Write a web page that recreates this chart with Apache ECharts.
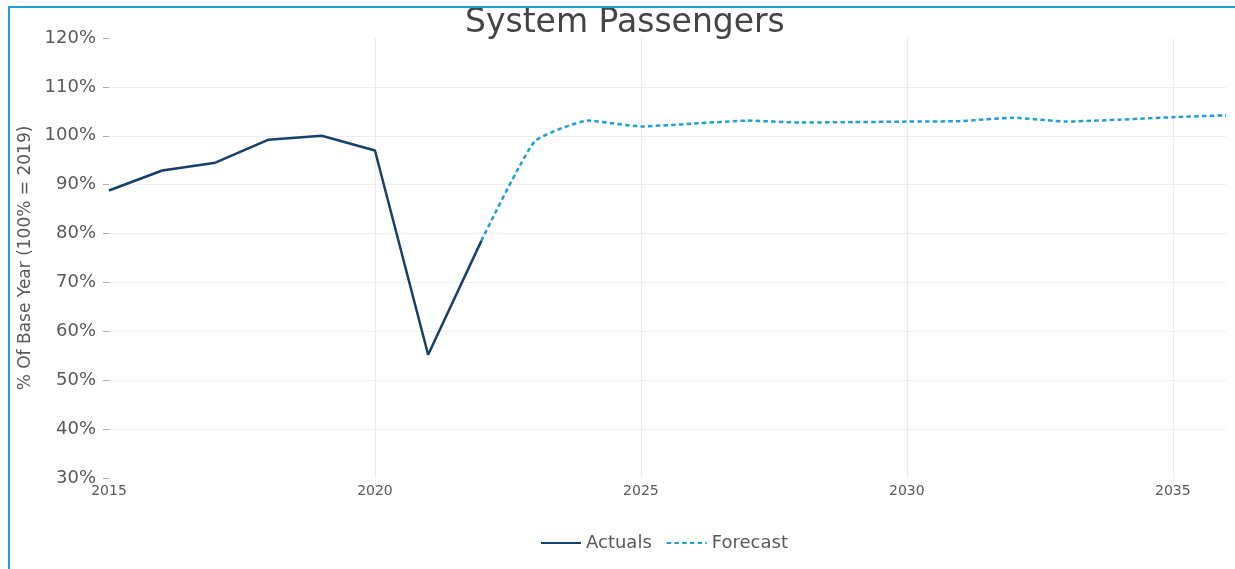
<!DOCTYPE html>
<html>
<head>
<meta charset="utf-8">
<style>
  html, body { margin: 0; padding: 0; background: #ffffff; }
  #wrap { position: relative; width: 1235px; height: 569px; overflow: hidden; }
  #chart { position: absolute; left: 0; top: 0; width: 1235px; height: 569px; }
  #frame {
    position: absolute; left: 8px; top: 6px; width: 1240px; height: 600px;
    border-left: 2px solid #1ba0d3; border-top: 2px solid #1ba0d3;
    pointer-events: none;
  }
</style>
<script src="https://cdn.jsdelivr.net/npm/echarts@6/dist/echarts.min.js"></script>
</head>
<body>
<div id="wrap">
  <div id="chart"></div>
  <div id="frame"></div>
</div>
<script>
// System passengers as a share of the 2019 base year
const actualYears = [2015, 2016, 2017, 2018, 2019, 2020, 2021, 2022];
const actualValues = [88.8, 92.9, 94.5, 99.2, 100.0, 97.0, 55.2, 78.5];

const forecastYears = [2022, 2023, 2024, 2025, 2026, 2027, 2028, 2029, 2030, 2031, 2032, 2033, 2034, 2035, 2036];
const forecastValues = [78.5, 98.8, 103.1, 101.9, 102.5, 103.1, 102.7, 102.8, 102.9, 103.0, 103.7, 102.9, 103.3, 103.8, 104.2];

const xTickYears = [2015, 2020, 2025, 2030, 2035];

const pairs = (xs, ys) => xs.map((x, i) => [x, ys[i]]);

const FONT = "'DejaVu Sans', Verdana, sans-serif";
const TEXT = '#595959';
const ACTUAL_COLOR = '#173f6b';
const FORECAST_COLOR = '#1ea0d6';

const chart = echarts.init(document.getElementById('chart'), null, { renderer: 'canvas' });

chart.setOption({
  backgroundColor: '#ffffff',
  animation: false,
  title: {
    text: 'System Passengers',
    left: 460,
    top: 2,
    textStyle: { fontFamily: FONT, fontSize: 33, fontWeight: 'normal', color: '#444444' }
  },
  grid: { left: 109, right: 9, top: 38, bottom: 91, containLabel: false },
  legend: {
    top: 529,
    left: 535,
    itemWidth: 40,
    itemHeight: 14,
    itemGap: 14,
    itemStyle: { opacity: 0 },
    textStyle: { fontFamily: FONT, fontSize: 18, color: TEXT },
    data: ['Actuals', 'Forecast']
  },
  xAxis: {
    type: 'value',
    min: 2015,
    max: 2036,
    interval: 5,
    axisLine: { show: false },
    axisTick: { show: false },
    axisLabel: {
      fontFamily: FONT, fontSize: 14, color: TEXT, margin: 6,
      showMaxLabel: false,
      formatter: v => (xTickYears.indexOf(v) >= 0 ? String(v) : '')
    },
    splitLine: { show: true, showMinLine: false, showMaxLine: false, lineStyle: { color: '#e9ebee', width: 1 } }
  },
  yAxis: {
    type: 'value',
    min: 30,
    max: 120,
    interval: 10,
    name: '% Of Base Year (100% = 2019)',
    nameLocation: 'middle',
    nameGap: 72,
    nameRotate: 90,
    nameTextStyle: { fontFamily: FONT, fontSize: 17, color: TEXT },
    axisLine: { show: false },
    axisTick: { show: true, length: 6, lineStyle: { color: '#aaaaaa' } },
    axisLabel: {
      fontFamily: FONT, fontSize: 18, color: TEXT, margin: 13,
      formatter: '{value}%'
    },
    splitLine: { show: true, showMinLine: false, showMaxLine: false, lineStyle: { color: '#eeeeee', width: 1 } }
  },
  series: [
    {
      name: 'Actuals',
      type: 'line',
      data: pairs(actualYears, actualValues),
      symbol: 'none',
      lineStyle: { color: ACTUAL_COLOR, width: 2.5 },
      itemStyle: { color: ACTUAL_COLOR },
      z: 3
    },
    {
      name: 'Forecast',
      type: 'line',
      data: pairs(forecastYears, forecastValues),
      symbol: 'none',
      smooth: 0.15,
      lineStyle: { color: FORECAST_COLOR, width: 2.5, type: [4.5, 3.2] },
      itemStyle: { color: FORECAST_COLOR },
      z: 2
    }
  ]
});
</script>
</body>
</html>
